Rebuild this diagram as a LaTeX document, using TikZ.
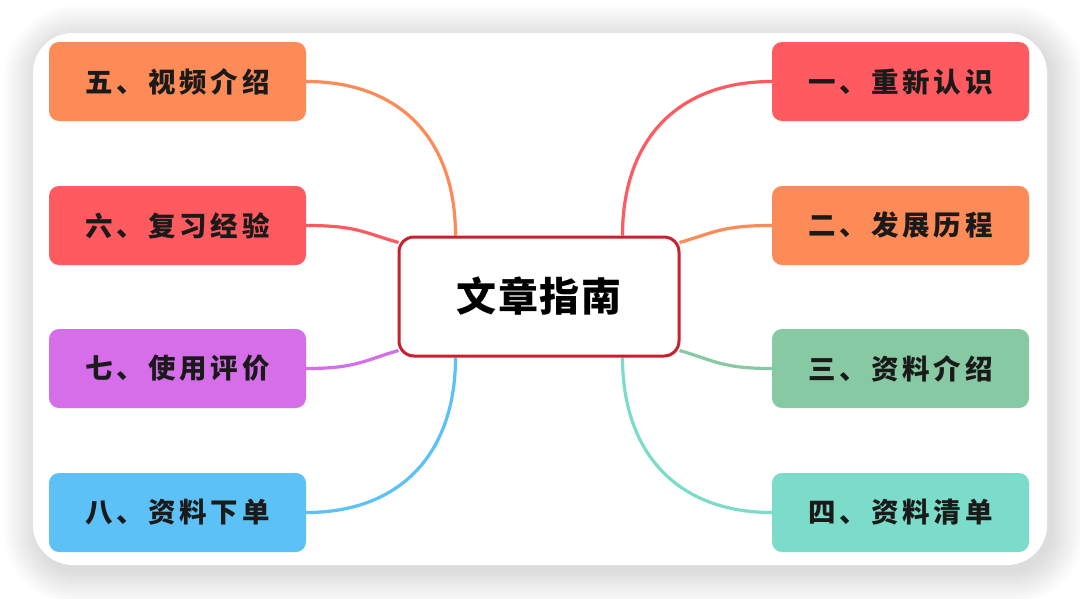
\documentclass[tikz,border=0pt]{standalone}
\usepackage{fontspec}
\newfontfamily\cjk[LetterSpace=14]{Noto Sans CJK SC}
\newfontfamily\cjkc[LetterSpace=4]{Noto Sans CJK SC}
\usetikzlibrary{calc}
\pgfdeclarelayer{bg}
\pgfsetlayers{bg,main}
\definecolor{corange}{HTML}{FD8B57}
\definecolor{cred}{HTML}{FE5A5F}
\definecolor{cpurple}{HTML}{D56EE8}
\definecolor{cblue}{HTML}{5BC1F7}
\definecolor{cgreen}{HTML}{86C9A3}
\definecolor{cteal}{HTML}{7CDCCA}
\definecolor{cborder}{HTML}{C91F2F}
\definecolor{ctext}{HTML}{1A1A1A}
\begin{document}
\begin{tikzpicture}[x=1pt,y=-1pt,
  box/.style={rounded corners=10pt, minimum width=257pt, minimum height=79pt, inner sep=0pt,
    text=ctext, font=\cjk\bfseries\fontsize{27.5}{29}\selectfont},
  hub/.style={rounded corners=15pt, minimum width=280pt, minimum height=119pt, inner sep=0pt,
    draw=cborder, line width=3pt, fill=white, text=black, font=\cjkc\bfseries\fontsize{40}{42}\selectfont},
  link/.style={line width=3.2pt}]
\useasboundingbox (0,0) rectangle (1080,598);

\node[hub] (c) at (539,296.5) {文章指南};

\node[box,fill=corange] (n5) at (177.5,81.5) {五、视频介绍};
\node[box,fill=cred]    (n6) at (177.5,225.5) {六、复习经验};
\node[box,fill=cpurple] (n7) at (177.5,368.5) {七、使用评价};
\node[box,fill=cblue]   (n8) at (177.5,512.5) {八、资料下单};
\node[box,fill=cred]    (n1) at (900.5,81.5) {一、重新认识};
\node[box,fill=corange] (n2) at (900.5,225.5) {二、发展历程};
\node[box,fill=cgreen]  (n3) at (900.5,368.5) {三、资料介绍};
\node[box,fill=cteal]   (n4) at (900.5,512.5) {四、资料清单};

\coordinate (e5) at ($(c.north west)+(58,0)$);
\coordinate (e6) at ($(c.north west)+(1,7)$);
\coordinate (e7) at ($(c.south west)+(1,-7)$);
\coordinate (e8) at ($(c.south west)+(58,0)$);
\coordinate (e1) at ($(c.north east)+(-58,0)$);
\coordinate (e2) at ($(c.north east)+(-1,7)$);
\coordinate (e3) at ($(c.south east)+(-1,-7)$);
\coordinate (e4) at ($(c.south east)+(-58,0)$);

\begin{pgfonlayer}{bg}
\fill[white] (0,0) rectangle (1080,598);
% shadow
\foreach \i in {1,...,34}{
  \pgfmathsetmacro\r{40+\i}
  \fill[black,opacity=0.0036,rounded corners=\r pt] (33-\i+4,33-\i+6) rectangle (1047+\i+4,565+\i+6);
}
\fill[white,rounded corners=40pt] (33,33) rectangle (1047,565);

\draw[link,corange] (n5.east) .. controls ($(n5.east)+(95,0)$) and ($(e5)+(0,-95)$) .. (e5);
\draw[link,cred]    (n6.east) .. controls ($(n6.east)+(50,0)$) and ($(e6)+(-35,-10)$) .. (e6);
\draw[link,cpurple] (n7.east) .. controls ($(n7.east)+(50,0)$) and ($(e7)+(-35,10)$) .. (e7);
\draw[link,cblue]   (n8.east) .. controls ($(n8.east)+(95,0)$) and ($(e8)+(0,95)$) .. (e8);
\draw[link,cred]    (n1.west) .. controls ($(n1.west)+(-95,0)$) and ($(e1)+(0,-95)$) .. (e1);
\draw[link,corange] (n2.west) .. controls ($(n2.west)+(-50,0)$) and ($(e2)+(35,-10)$) .. (e2);
\draw[link,cgreen]  (n3.west) .. controls ($(n3.west)+(-50,0)$) and ($(e3)+(35,10)$) .. (e3);
\draw[link,cteal]   (n4.west) .. controls ($(n4.west)+(-95,0)$) and ($(e4)+(0,95)$) .. (e4);
\end{pgfonlayer}
\end{tikzpicture}
\end{document}
